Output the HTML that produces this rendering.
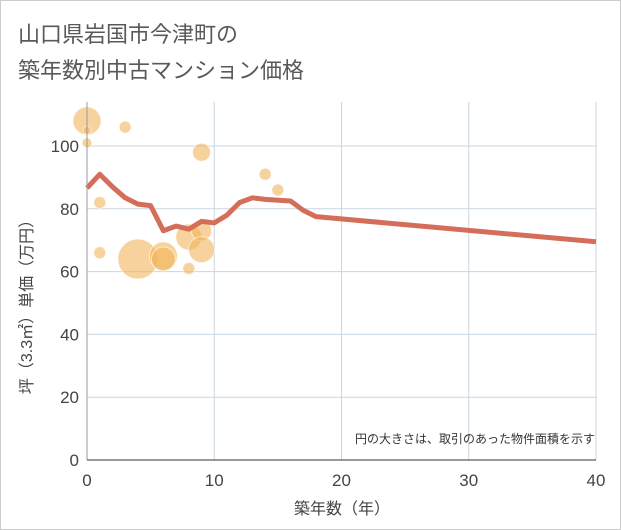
<!DOCTYPE html>
<html><head><meta charset="utf-8"><style>
body{margin:0;background:#fff}
svg{display:block;font-family:"Liberation Sans","Noto Sans CJK JP",sans-serif}
</style></head><body>
<svg id="c" width="621" height="530" viewBox="0 0 621 530">
<rect x="0.5" y="0.5" width="620" height="529" fill="#fff" stroke="#ccc"/>
<text x="18" y="42" font-size="22" fill="#595959">山口県岩国市今津町の</text>
<text x="18" y="78" font-size="22" fill="#595959">築年数別中古マンション価格</text>
<g id="grid"></g>
<g id="bubbles"></g>
<g id="line"></g>
<g id="axes"></g>
<text x="595" y="443" font-size="12" fill="#333" text-anchor="end">円の大きさは、取引のあった物件面積を示す</text>
<text x="342" y="514" font-size="16" fill="#444" text-anchor="middle">築年数（年）</text>
<text transform="translate(32,303) rotate(-90)" font-size="16" fill="#444" text-anchor="middle">坪（3.3㎡）単価（万円）</text>
</svg>
<script>
const xTicks=[0,10,20,30,40];
const yTicks=[0,20,40,60,80,100];
const lineX=[0,1,2,3,4,5,6,7,8,9,10,11,12,13,14,16,17,18,40];
const lineY=[86.6,91,87,83.5,81.5,81,73,74.5,73.5,76,75.5,78,82,83.5,83,82.5,79.5,77.5,69.5];
const bubX=[0,0,0,3,9,1,1,4,6,6,8,9,9,8,14,15];
const bubY=[108,101,105,106,98,82,66,64,65,64,71,73,67,61,91,86];
const bubR=[14,5,4,6,9,6,6,20,14,12,13,10,13,6,6,6];
const L=87,R=596,T=102,B=460;
const sx=v=>L+(R-L)*v/40, sy=v=>B-(B-146)*v/100;
const ns="http://www.w3.org/2000/svg";
function mk(t,a,p){const e=document.createElementNS(ns,t);for(const k in a)e.setAttribute(k,a[k]);p.appendChild(e);return e;}
const g=document.getElementById('grid'),ax=document.getElementById('axes');
xTicks.forEach(v=>{const e=mk('line',{x1:sx(v),x2:sx(v),y1:T,y2:B,stroke:'#c8d6e2'},g);

const t=mk('text',{x:sx(v),y:B+26,'font-size':17,fill:'#444','text-anchor':'middle'},ax);t.textContent=v;
});
yTicks.forEach(v=>{const e=mk('line',{x1:L,x2:R,y1:sy(v),y2:sy(v),stroke:'#c8d6e2'},g);

const t=mk('text',{x:L-8,y:sy(v)+6,'font-size':17,fill:'#444','text-anchor':'end'},ax);t.textContent=v;
});
const a1=mk('line',{x1:L,x2:L,y1:T,y2:B,stroke:'#999'},ax);
const a2=mk('line',{x1:L,x2:R,y1:B,y2:B,stroke:'#333'},ax);
const bg=document.getElementById('bubbles');
bubX.forEach((v,i)=>{const c=mk('circle',{cx:sx(v),cy:sy(bubY[i]),r:bubR[i],fill:'rgba(242,180,90,0.6)',stroke:'rgba(255,255,255,0.6)'},bg);
});
const p=mk('polyline',{points:lineX.map((v,i)=>sx(v)+','+sy(lineY[i])).join(' '),fill:'none',stroke:'#d46e5a','stroke-width':5,'stroke-linejoin':'round'},document.getElementById('line'));

</script>
</body></html>
